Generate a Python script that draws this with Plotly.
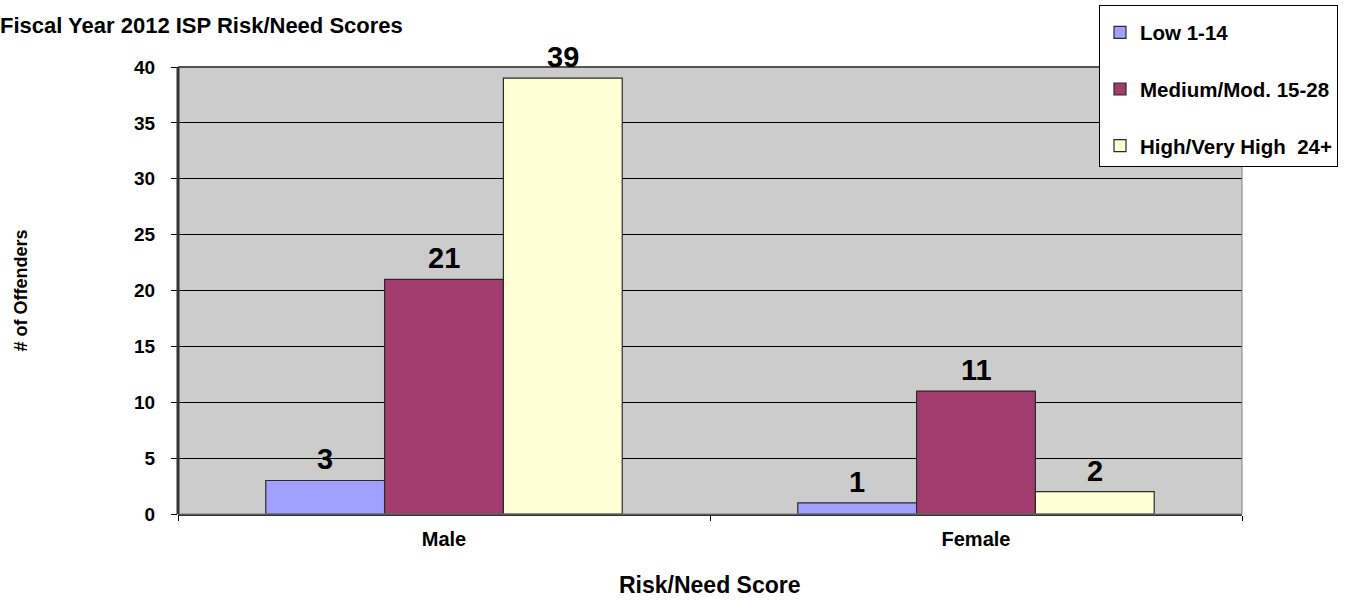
import plotly.graph_objects as go

# Offender counts by gender and risk/need level
categories = ["Male", "Female"]
series_names = ["Low 1-14", "Medium/Mod. 15-28", "High/Very High\u00a0 24+"]
low_counts = [3, 1]
medium_counts = [21, 11]
high_counts = [39, 2]
y_ticks = [0, 5, 10, 15, 20, 25, 30, 35, 40]

colors = ["#A0A0FF", "#A23B6E", "#FFFFD6"]
series_values = [low_counts, medium_counts, high_counts]

FONT = "Liberation Sans, Arial, sans-serif"

fig = go.Figure()
for i, (name, vals, col) in enumerate(zip(series_names, series_values, colors)):
    fig.add_trace(go.Bar(
        x=categories, y=vals, name=f"<b>{name}</b>",
        marker=dict(color=col, line=dict(color="#2a2a2a", width=1.2)),
        legendgroup=f"g{i}",
        offsetgroup=str(i),
        hoverinfo="x+y",
    ))

# Value labels floating above each bar
n = len(series_names)
bar_w = 0.67 / n
for i, vals in enumerate(series_values):
    for j, v in enumerate(vals):
        fig.add_annotation(
            x=j + (i - (n - 1) / 2) * bar_w, y=v, xref="x", yref="y",
            text=f"<b>{v}</b>", showarrow=False, yanchor="bottom", yshift=3,
            font=dict(family=FONT, size=29, color="black"),
        )

# Axis titles placed as free text
fig.add_annotation(
    text="<b># of Offenders</b>", xref="paper", yref="paper",
    x=-178 / 1064, y=0.5, xanchor="left", yanchor="middle", xshift=8,
    textangle=-90, showarrow=False,
    font=dict(family=FONT, size=18, color="black"),
)
fig.add_annotation(
    text="<b>Risk/Need Score</b>", xref="paper", yref="paper",
    x=0.5, y=0, yanchor="middle", yshift=-71,
    showarrow=False,
    font=dict(family=FONT, size=23, color="black"),
)

fig.update_layout(
    width=1355, height=600,
    margin=dict(l=178, r=113, t=67, b=86, autoexpand=False),
    paper_bgcolor="white",
    plot_bgcolor="#CCCCCC",
    barmode="group",
    bargap=0.33,
    bargroupgap=0,
    font=dict(family=FONT, color="black"),
    title=dict(
        text="<b>Fiscal Year 2012 ISP Risk/Need Scores</b>",
        xref="container", x=0, xanchor="left", y=1 - 25 / 600, yanchor="middle",
        pad=dict(l=0),
        font=dict(family=FONT, size=22, color="black"),
    ),
    legend=dict(
        xref="container", yref="container",
        x=1099 / 1355, y=1 - 5 / 600, xanchor="left", yanchor="top",
        bgcolor="white", bordercolor="black", borderwidth=1,
        font=dict(family=FONT, size=20.5, color="black"),
        title=dict(text="\u00a0", font=dict(family=FONT, size=5)),
        tracegroupgap=27,
        itemwidth=30,
    ),
    showlegend=True,
)

fig.update_yaxes(
    range=[0, 40], tickvals=y_ticks,
    ticktext=[f"<b>{t}</b>" for t in y_ticks],
    tickfont=dict(family=FONT, size=19, color="black"),
    showgrid=True, gridcolor="black", gridwidth=1,
    ticks="outside", ticklen=6, tickcolor="black",
    ticklabelstandoff=12,
    zeroline=False, showline=False,
    fixedrange=True,
)
fig.update_xaxes(
    tickvals=categories,
    ticktext=[f"<b>{c}</b>" for c in categories],
    tickfont=dict(family=FONT, size=20, color="black"),
    tickson="boundaries", ticks="outside", ticklen=5, tickcolor="black",
    ticklabelstandoff=6,
    showline=True, linecolor="#333333", linewidth=1.5,
    fixedrange=True,
)

# Plot-area frame: thin grey outline with a darker left edge
fig.add_shape(type="rect", xref="paper", yref="paper", x0=0, x1=1, y0=0, y1=1,
              line=dict(color="#808080", width=1), layer="above")
fig.add_shape(type="line", xref="paper", yref="paper", x0=0, x1=0, y0=0, y1=1,
              line=dict(color="#333333", width=3), layer="above")
fig.add_shape(type="line", xref="paper", yref="paper", x0=0, x1=1, y0=1, y1=1,
              line=dict(color="#333333", width=1.5), layer="above")

fig.write_html("out.html")
